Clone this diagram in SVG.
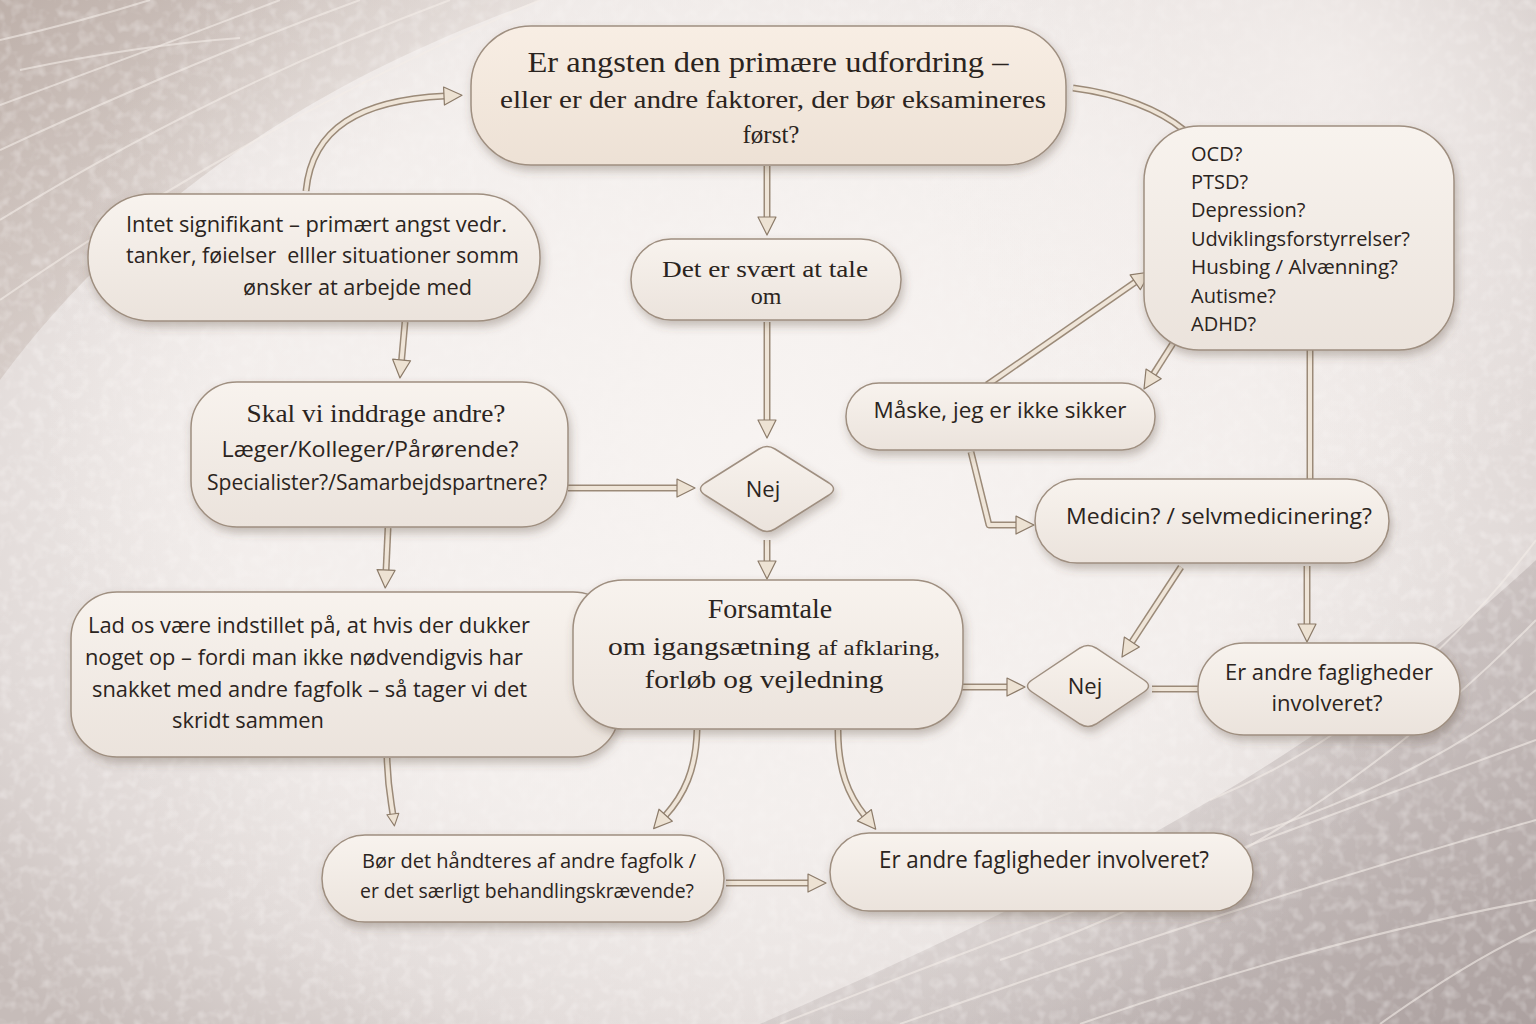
<svg xmlns="http://www.w3.org/2000/svg" width="1536" height="1024" viewBox="0 0 1536 1024">
<defs>
  <radialGradient id="bgR" gradientUnits="userSpaceOnUse" cx="740" cy="440" r="900" gradientTransform="translate(740 440) scale(1.15 0.85) translate(-740 -440)">
    <stop offset="0" stop-color="#f7f3f1"/>
    <stop offset="0.5" stop-color="#f2edeb"/>
    <stop offset="0.78" stop-color="#e0d9d7"/>
    <stop offset="1" stop-color="#c6bcb9"/>
  </radialGradient>
  <linearGradient id="tlG" x1="0" y1="0" x2="1" y2="1">
    <stop offset="0" stop-color="#bcaea7" stop-opacity="0.9"/>
    <stop offset="1" stop-color="#d6cbc5" stop-opacity="0.15"/>
  </linearGradient>
  <linearGradient id="brG" x1="1" y1="1" x2="0" y2="0">
    <stop offset="0" stop-color="#a99e9d" stop-opacity="0.9"/>
    <stop offset="1" stop-color="#c9c0bf" stop-opacity="0.2"/>
  </linearGradient>
  <radialGradient id="centerFade" gradientUnits="userSpaceOnUse" cx="760" cy="430" r="720">
    <stop offset="0" stop-color="#f7f3f1" stop-opacity="0.9"/>
    <stop offset="0.6" stop-color="#f4f0ee" stop-opacity="0.55"/>
    <stop offset="1" stop-color="#f4f0ee" stop-opacity="0"/>
  </radialGradient>
  <radialGradient id="trFade" gradientUnits="userSpaceOnUse" cx="1320" cy="80" r="420">
    <stop offset="0" stop-color="#f3eeec" stop-opacity="0.9"/>
    <stop offset="1" stop-color="#f3eeec" stop-opacity="0"/>
  </radialGradient>
  <filter id="noise" x="0" y="0" width="100%" height="100%">
    <feTurbulence type="fractalNoise" baseFrequency="0.09" numOctaves="2" seed="7"/>
    <feColorMatrix type="matrix" values="0 0 0 0 1  0 0 0 0 0.98  0 0 0 0 0.97  0 0 0 1.6 -0.72"/>
  </filter>
  <linearGradient id="nodeG" x1="0" y1="0" x2="0" y2="1">
    <stop offset="0" stop-color="#f8f3ee"/>
    <stop offset="1" stop-color="#ebe3dc"/>
  </linearGradient>
  <linearGradient id="topG" x1="0" y1="0" x2="0" y2="1">
    <stop offset="0" stop-color="#f8eee4"/>
    <stop offset="1" stop-color="#ede1d5"/>
  </linearGradient>
  <filter id="shadow" x="-10%" y="-15%" width="125%" height="140%">
    <feDropShadow dx="2" dy="5" stdDeviation="5" flood-color="#5a4a40" flood-opacity="0.33"/>
  </filter>
  <marker id="ah" viewBox="0 0 20 22" markerWidth="20" markerHeight="22" refX="2" refY="11" orient="auto" markerUnits="userSpaceOnUse">
    <path d="M1,2 L19,11 L1,20 Z" fill="#ede2d3" stroke="#8c7b69" stroke-width="1.2" stroke-linejoin="round"/>
  </marker>
  <marker id="ahs" viewBox="0 0 14 16" markerWidth="14" markerHeight="16" refX="2" refY="8" orient="auto" markerUnits="userSpaceOnUse">
    <path d="M1,2 L13,8 L1,14 Z" fill="#ede2d3" stroke="#8c7b69" stroke-width="1.1" stroke-linejoin="round"/>
  </marker>
  <style>
    .node { fill:url(#nodeG); stroke:#9f8f80; stroke-width:1.5; filter:url(#shadow); }
    .top { fill:url(#topG); }
    .serif { font-family:"Liberation Serif","DejaVu Serif",serif; fill:#2b2420; }
    .sans { font-family:"Open Sans","Noto Sans","DejaVu Sans",sans-serif; fill:#2b2420; }
    .co { fill:none; stroke:#9b8a78; stroke-width:7; stroke-linejoin:round; }
    .ci { fill:none; stroke:#efe5d8; stroke-width:4; stroke-linejoin:round; }
    .bgl { fill:none; stroke:#f3ece8; stroke-width:2; opacity:0.6; }
  </style>
</defs>

<!-- background -->
<g id="background">
  <rect x="0" y="0" width="1536" height="1024" fill="url(#bgR)"/>
  <path d="M0,0 H540 C400,50 170,150 0,380 Z" fill="url(#tlG)"/>
  <path d="M1536,1024 H760 C1000,920 1300,780 1536,560 Z" fill="url(#brG)"/>
  <rect x="0" y="0" width="1536" height="1024" filter="url(#noise)" opacity="0.45"/>
  <rect x="0" y="0" width="1536" height="1024" fill="url(#centerFade)"/>
  <rect x="900" y="0" width="636" height="520" fill="url(#trFade)"/>
  <path class="bgl" d="M0,40 Q80,22 150,0"/>
  <path class="bgl" d="M0,105 Q150,50 280,0"/>
  <path class="bgl" d="M20,70 Q140,45 240,38"/>
  <path class="bgl" d="M0,150 Q190,62 360,0"/>
  <path class="bgl" d="M0,220 Q210,90 450,0"/>
  <path class="bgl" d="M0,300 Q260,120 540,0" opacity="0.4"/>
  <path class="bgl" d="M780,1024 Q1150,880 1536,740"/>
  <path class="bgl" d="M900,1024 Q1250,900 1536,820"/>
  <path class="bgl" d="M1080,1024 Q1320,940 1536,900"/>
  <path class="bgl" d="M1000,960 Q1300,860 1536,620"/>
  <path class="bgl" d="M1250,835 Q1420,780 1536,690"/>
  <path class="bgl" d="M1210,800 Q1400,720 1536,540" opacity="0.4"/>
  <path class="bgl" d="M1380,1024 Q1470,960 1536,930"/>
</g>

<!-- connectors -->
<g id="connectors">
  <path class="co" d="M306,191 C312,128 360,100 445,96"/>
  <path class="ci" d="M306,191 C312,128 360,100 445,96" marker-end="url(#ah)"/>
  <path class="co" d="M1073,88 C1120,94 1160,110 1184,130"/>
  <path class="ci" d="M1073,88 C1120,94 1160,110 1184,130"/>
  <path class="co" d="M767,166 V218"/>
  <path class="ci" d="M767,166 V218" marker-end="url(#ah)"/>
  <path class="co" d="M767,322 V421"/>
  <path class="ci" d="M767,322 V421" marker-end="url(#ah)"/>
  <path class="co" d="M405,322 L401.5,361"/>
  <path class="ci" d="M405,322 L401.5,361" marker-end="url(#ah)"/>
  <path class="co" d="M568,488 H678"/>
  <path class="ci" d="M568,488 H678" marker-end="url(#ah)"/>
  <path class="co" d="M767,540 V562"/>
  <path class="ci" d="M767,540 V562" marker-end="url(#ah)"/>
  <path class="co" d="M388,528 L386,571"/>
  <path class="ci" d="M388,528 L386,571" marker-end="url(#ah)"/>
  <path class="co" d="M538,689 H555"/>
  <path class="ci" d="M538,689 H555" marker-end="url(#ahs)"/>
  <path class="co" d="M387,758 C388,790 391,800 393,815"/>
  <path class="ci" d="M387,758 C388,790 391,800 393,815" marker-end="url(#ahs)"/>
  <path class="co" d="M697,730 C696,770 684,795 665,816"/>
  <path class="ci" d="M697,730 C696,770 684,795 665,816" marker-end="url(#ah)"/>
  <path class="co" d="M838,730 C838,770 848,795 865,816"/>
  <path class="ci" d="M838,730 C838,770 848,795 865,816" marker-end="url(#ah)"/>
  <path class="co" d="M726,883 H809"/>
  <path class="ci" d="M726,883 H809" marker-end="url(#ah)"/>
  <path class="co" d="M962,687 H1008"/>
  <path class="ci" d="M962,687 H1008" marker-end="url(#ah)"/>
  <path class="co" d="M1152,689 H1200"/>
  <path class="ci" d="M1152,689 H1200"/>
  <path class="co" d="M1181,567 L1131.3,642.8"/>
  <path class="ci" d="M1181,567 L1131.3,642.8" marker-end="url(#ah)"/>
  <path class="co" d="M1307,566 V625"/>
  <path class="ci" d="M1307,566 V625" marker-end="url(#ah)"/>
  <path class="co" d="M1310,350 V481"/>
  <path class="ci" d="M1310,350 V481"/>
  <path class="co" d="M987,385 L1136,281.7"/>
  <path class="ci" d="M987,385 L1136,281.7" marker-end="url(#ah)"/>
  <path class="co" d="M1177,337 L1153.1,374.7"/>
  <path class="ci" d="M1177,337 L1153.1,374.7" marker-end="url(#ah)"/>
  <path class="co" d="M971,452 L989,525 H1017"/>
  <path class="ci" d="M971,452 L989,525 H1017" marker-end="url(#ah)"/>
</g>

<!-- nodes -->
<g id="n-top">
  <rect class="node top" x="471" y="26" width="595" height="139" rx="60"/>
  <text class="serif" x="768" y="72" font-size="29" text-anchor="middle" textLength="481" lengthAdjust="spacingAndGlyphs">Er angsten den primære udfordring –</text>
  <text class="serif" x="773" y="108" font-size="25" text-anchor="middle" textLength="546" lengthAdjust="spacingAndGlyphs">eller er der andre faktorer, der bør eksamineres</text>
  <text class="serif" x="771" y="143" font-size="25" text-anchor="middle">først?</text>
</g>

<g id="n-intet">
  <rect class="node" x="88" y="194" width="452" height="127" rx="63"/>
  <text class="sans" x="126" y="232" font-size="22" textLength="381" lengthAdjust="spacingAndGlyphs">Intet signifikant – primært angst vedr.</text>
  <text class="sans" x="126" y="263" font-size="22" textLength="393" lengthAdjust="spacingAndGlyphs" xml:space="preserve">tanker, føielser  elller situationer somm</text>
  <text class="sans" x="243" y="295" font-size="22" textLength="229" lengthAdjust="spacingAndGlyphs">ønsker at arbejde med</text>
</g>

<g id="n-skal">
  <rect class="node" x="191" y="382" width="377" height="145" rx="46"/>
  <text class="serif" x="376" y="422" font-size="25" text-anchor="middle" textLength="259" lengthAdjust="spacingAndGlyphs">Skal vi inddrage andre?</text>
  <text class="sans" x="370" y="457" font-size="22" text-anchor="middle" textLength="297" lengthAdjust="spacingAndGlyphs">Læger/Kolleger/Pårørende?</text>
  <text class="sans" x="377" y="490" font-size="21" text-anchor="middle" textLength="340" lengthAdjust="spacingAndGlyphs">Specialister?/Samarbejdspartnere?</text>
</g>

<g id="n-svaert">
  <rect class="node" x="631" y="239" width="270" height="81" rx="40"/>
  <text class="serif" x="765" y="277" font-size="24" text-anchor="middle" textLength="206" lengthAdjust="spacingAndGlyphs">Det er svært at tale</text>
  <text class="serif" x="766" y="304" font-size="24" text-anchor="middle">om</text>
</g>

<g id="n-nej1">
  <path class="node" d="M705,483 L759,449 Q767,444 775,449 L829,483 Q838,489 829,495 L775,529 Q767,534 759,529 L705,495 Q696,489 705,483 Z"/>
  <text class="sans" x="763" y="497" font-size="22" text-anchor="middle">Nej</text>
</g>

<g id="n-lad">
  <rect class="node" x="71" y="592" width="548" height="165" rx="46"/>
  <text class="sans" x="88" y="633" font-size="22" textLength="442" lengthAdjust="spacingAndGlyphs">Lad os være indstillet på, at hvis der dukker</text>
  <text class="sans" x="85" y="665" font-size="22" textLength="438" lengthAdjust="spacingAndGlyphs">noget op – fordi man ikke nødvendigvis har</text>
  <text class="sans" x="92" y="697" font-size="22" textLength="435" lengthAdjust="spacingAndGlyphs">snakket med andre fagfolk – så tager vi det</text>
  <text class="sans" x="172" y="728" font-size="22" textLength="152" lengthAdjust="spacingAndGlyphs">skridt sammen</text>
</g>

<g id="n-forsamtale">
  <rect class="node" x="573" y="580" width="390" height="149" rx="50"/>
  <text class="serif" x="770" y="618" font-size="28" text-anchor="middle">Forsamtale</text>
  <text class="serif" x="774" y="655" font-size="26" text-anchor="middle" textLength="332" lengthAdjust="spacingAndGlyphs">om igangsætning <tspan font-size="22">af afklaring,</tspan></text>
  <text class="serif" x="764" y="688" font-size="26" text-anchor="middle" textLength="239" lengthAdjust="spacingAndGlyphs">forløb og vejledning</text>
</g>

<g id="n-ocd">
  <rect class="node" x="1144" y="126" width="310" height="224" rx="55"/>
  <text class="sans" x="1191" y="161" font-size="20">OCD?</text>
  <text class="sans" x="1191" y="189" font-size="20">PTSD?</text>
  <text class="sans" x="1191" y="217" font-size="20">Depression?</text>
  <text class="sans" x="1191" y="246" font-size="20" textLength="219" lengthAdjust="spacingAndGlyphs">Udviklingsforstyrrelser?</text>
  <text class="sans" x="1191" y="274" font-size="20" textLength="207" lengthAdjust="spacingAndGlyphs">Husbing / Alvænning?</text>
  <text class="sans" x="1191" y="303" font-size="20">Autisme?</text>
  <text class="sans" x="1191" y="331" font-size="20">ADHD?</text>
</g>

<g id="n-maaske">
  <rect class="node" x="846" y="383" width="309" height="67" rx="33"/>
  <text class="sans" x="1000" y="418" font-size="22" text-anchor="middle" textLength="253" lengthAdjust="spacingAndGlyphs">Måske, jeg er ikke sikker</text>
</g>

<g id="n-medicin">
  <rect class="node" x="1035" y="479" width="354" height="84" rx="42"/>
  <text class="sans" x="1219" y="524" font-size="22" text-anchor="middle" textLength="306" lengthAdjust="spacingAndGlyphs">Medicin? / selvmedicinering?</text>
</g>

<g id="n-nej2">
  <path class="node" d="M1032,680 L1080,648 Q1088,643 1096,648 L1144,680 Q1153,686 1144,692 L1096,724 Q1088,729 1080,724 L1032,692 Q1023,686 1032,680 Z"/>
  <text class="sans" x="1085" y="694" font-size="22" text-anchor="middle">Nej</text>
</g>

<g id="n-andre-right">
  <rect class="node" x="1198" y="643" width="262" height="92" rx="46"/>
  <text class="sans" x="1329" y="680" font-size="22" text-anchor="middle" textLength="208" lengthAdjust="spacingAndGlyphs">Er andre fagligheder</text>
  <text class="sans" x="1327" y="711" font-size="22" text-anchor="middle">involveret?</text>
</g>

<g id="n-boer">
  <rect class="node" x="322" y="835" width="402" height="87" rx="43"/>
  <text class="sans" x="529" y="868" font-size="20" text-anchor="middle" textLength="334" lengthAdjust="spacingAndGlyphs">Bør det håndteres af andre fagfolk /</text>
  <text class="sans" x="527" y="898" font-size="20" text-anchor="middle" textLength="334" lengthAdjust="spacingAndGlyphs">er det særligt behandlingskrævende?</text>
</g>

<g id="n-andre-bottom">
  <rect class="node" x="830" y="833" width="423" height="78" rx="39"/>
  <text class="sans" x="1044" y="868" font-size="23" text-anchor="middle" textLength="330" lengthAdjust="spacingAndGlyphs">Er andre fagligheder involveret?</text>
</g>
</svg>
